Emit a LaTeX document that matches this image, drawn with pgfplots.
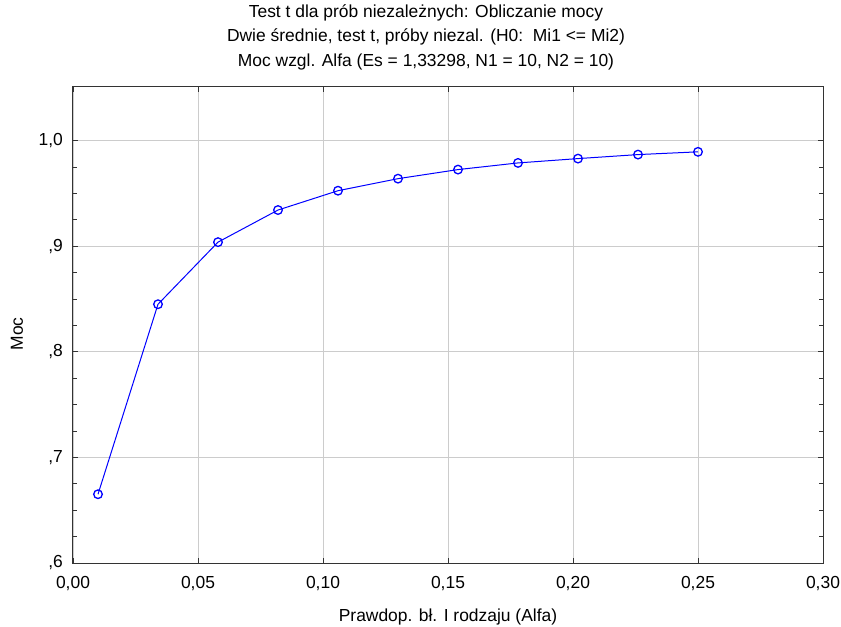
\documentclass[border=0pt]{standalone}
\usepackage{pgfplots}
\pgfplotsset{compat=1.18}
\usepackage{fontspec}
\setmainfont{Liberation Sans}

% power vs. alpha
\pgfplotstableread{
alfa moc
0.010 0.6651
0.034 0.8450
0.058 0.9038
0.082 0.9342
0.106 0.9525
0.130 0.9639
0.154 0.9725
0.178 0.9788
0.202 0.9829
0.226 0.9867
0.250 0.9893
}\moctable

\begin{document}
\begin{tikzpicture}
  \useasboundingbox (-73bp,-64bp) rectangle (768bp,563bp);
  \begin{axis}[
    scale only axis,
    width=750bp, height=476bp,
    xmin=0, xmax=0.30,
    ymin=0.6, ymax=1.0507,
    xtick={0,0.05,0.10,0.15,0.20,0.25,0.30},
    xticklabels={{0,00},{0,05},{0,10},{0,15},{0,20},{0,25},{0,30}},
    ytick={0.6,0.7,0.8,0.9,1.0},
    yticklabels={{,6},{,7},{,8},{,9},{1,0}},
    minor y tick num=3,
    tick align=inside,
    major tick length=5bp,
    minor tick length=4bp,
    tick style={black!80, line width=0.8bp},
    axis line style={black!80, line width=1bp},
    grid=major,
    grid style={black!20, line width=0.8bp},
    ticklabel style={font=\fontsize{17.5}{19}\selectfont, inner sep=0pt},
    xticklabel style={anchor=north, yshift=-13.5bp},
    yticklabel style={anchor=east, xshift=-10bp},
    xlabel={Prawdop. bł. I rodzaju (Alfa)},
    ylabel={Moc},
    label style={font=\fontsize{17.5}{19}\selectfont},
    xlabel style={at={(0.5,0)}, anchor=base, yshift=-58bp},
    ylabel style={at={(0,0.481)}, anchor=center, yshift=56bp},
    title={Test t dla prób niezależnych: Obliczanie mocy\\Dwie średnie, test t, próby niezal. (H0:\ \ Mi1 <= Mi2)\\Moc wzgl. Alfa (Es = 1,33298, N1 = 10, N2 = 10)},
    title style={at={(0.5,1)}, anchor=south, xshift=-22bp, yshift=11bp,
      inner sep=0pt, align=center, font=\fontsize{17.5}{24.3}\selectfont},
  ]
  \addplot[color=blue, line width=1bp, mark=o, mark size=4.3bp,
    mark options={fill=white, line width=1.3bp}] table[x=alfa, y=moc] {\moctable};
  \end{axis}
\end{tikzpicture}
\end{document}
